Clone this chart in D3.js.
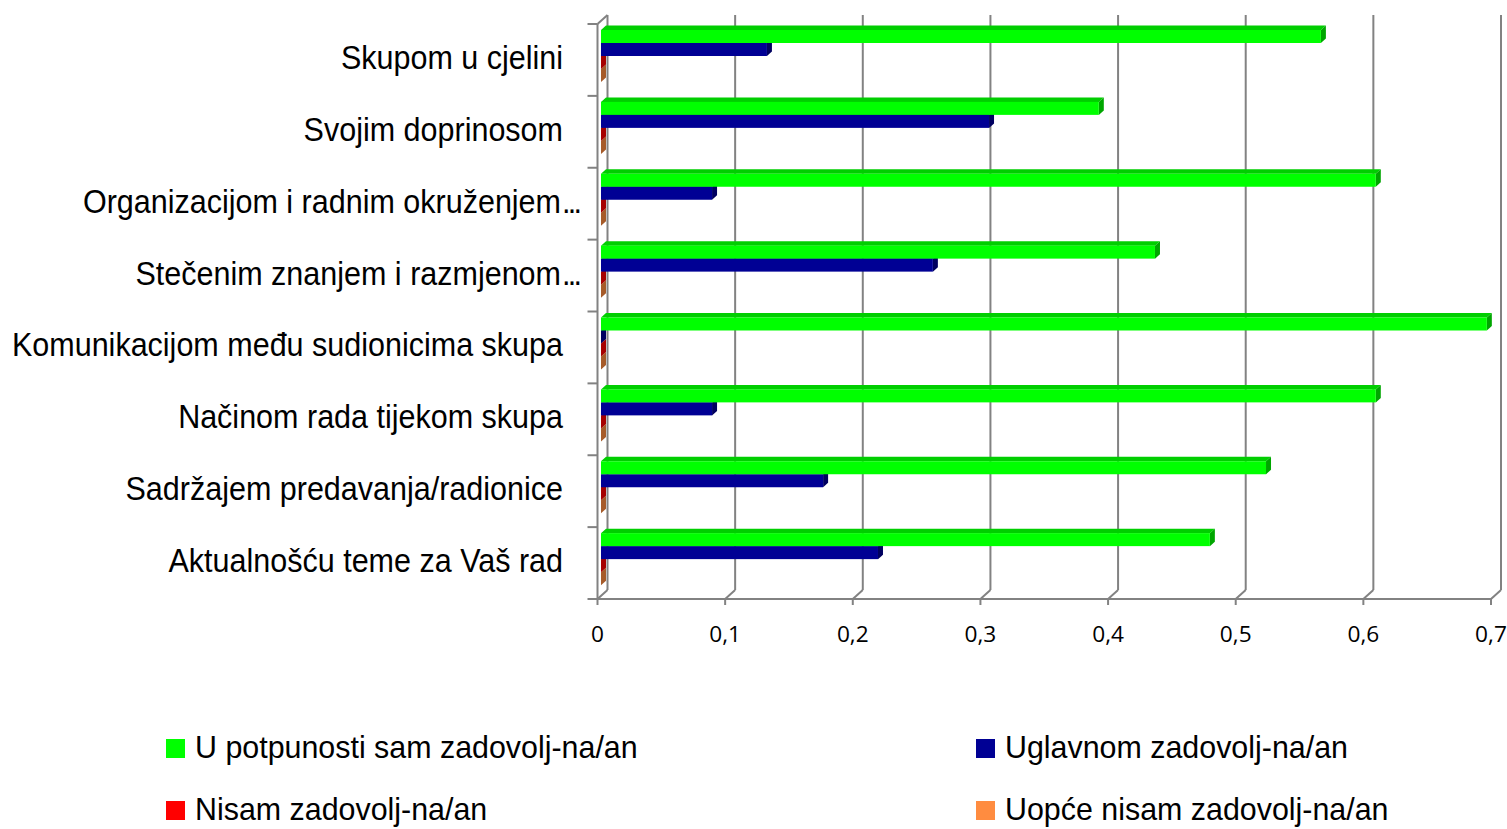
<!DOCTYPE html>
<html>
<head>
<meta charset="utf-8">
<script src="https://cdn.jsdelivr.net/npm/d3@7"></script>
<style>
    body { margin: 0; background: #fff; }
    svg { display: block; }
</style>
</head>
<body>
<svg width="1507" height="829"></svg>
<script>
// ------------------DATA------------------
var categories = ["Skupom u cjelini", "Svojim doprinosom", "Organizacijom i radnim okruženjem…",
    "Stečenim znanjem i razmjenom…", "Komunikacijom među sudionicima skupa",
    "Načinom rada tijekom skupa", "Sadržajem predavanja/radionice", "Aktualnošću teme za Vaš rad"];
var potpuno = [0.564, 0.390, 0.607, 0.434, 0.694, 0.607, 0.521, 0.477];
var uglavnom = [0.130, 0.304, 0.087, 0.260, 0, 0.087, 0.174, 0.217];
var nisam = [0, 0, 0, 0, 0, 0, 0, 0];
var uopce = [0, 0, 0, 0, 0, 0, 0, 0];
var seriesNames = ["U potpunosti sam zadovolj-na/an", "Uglavnom zadovolj-na/an",
    "Nisam zadovolj-na/an", "Uopće nisam zadovolj-na/an"];
var seriesValues = [potpuno, uglavnom, nisam, uopce];
var seriesColors = ["#00FF00", "#000094", "#FF0000", "#FF8C40"];
var xTicks = [0, 0.1, 0.2, 0.3, 0.4, 0.5, 0.6, 0.7];

// ------------------LAYOUT------------------
var svg = d3.select("svg");
var gridColor = "#828282";
var labelFont = "'Liberation Sans', Arial, sans-serif";
// offset of the back wall against the front plane
var wallDx = 10, wallDy = -9;
// bars sit a bit behind the front plane and have their own depth
var barShift = 3.5, barDx = 5, barDy = -4.5;

var x = d3.scaleLinear().domain([0, 0.7]).range([597.5, 1491]);
var y = d3.scaleBand().domain(categories).range([24, 599]);
var inner = d3.scaleBand().domain(seriesNames).range([6, 58]);

function linia(x1, y1, x2, y2) {
    svg.append("line")
        .attr("x1", x1).attr("y1", y1)
        .attr("x2", x2).attr("y2", y2)
        .style("stroke", gridColor)
        .style("stroke-width", 2);
}

// gridlines on the back wall, floor lines and ticks
function dibuixarGraella() {
    var bottom = y.range()[1];
    xTicks.forEach(function (t) {
        var fx = x(t);
        linia(fx + wallDx, 15, fx + wallDx, bottom + wallDy);
        linia(fx + wallDx, bottom + wallDy, fx, bottom);
        linia(fx, bottom, fx, bottom + 6);
        svg.append("text")
            .attr("transform", "translate(" + fx + ",642) scale(1.08,1)")
            .attr("text-anchor", "middle")
            .style("font-family", "'Open Sans', sans-serif")
            .style("font-size", "21px")
            .style("fill", "#000")
            .text(String(t).replace(".", ","));
    });
    // left wall and front axis
    var x0 = x(0);
    linia(x0, y.range()[0], x0, bottom);
    linia(x0, y.range()[0], x0 + wallDx, y.range()[0] + wallDy);
    linia(x0, bottom, x(0.7), bottom);
    var limits = categories.map(function (c) { return y(c); }).concat([bottom]);
    limits.forEach(function (ly) {
        linia(x0 - 10, ly, x0, ly);
    });
}

// one 3D bar: top face, right face and front face
function dibuixarBarra(cat, nom, valor, color) {
    var x0 = x(0) + barShift;
    var x1 = x(valor) + barShift;
    var y0 = y(cat) + inner(nom);
    var y1 = y0 + inner.bandwidth();
    var c = d3.color(color);
    var g = svg.append("g");
    g.append("polygon")
        .attr("points", [[x0, y0], [x0 + barDx, y0 + barDy], [x1 + barDx, y0 + barDy], [x1, y0]].join(" "))
        .style("fill", c.darker(0.6));
    g.append("polygon")
        .attr("points", [[x1, y0], [x1 + barDx, y0 + barDy], [x1 + barDx, y1 + barDy], [x1, y1]].join(" "))
        .style("fill", c.darker(1.2));
    g.append("rect")
        .attr("x", x0)
        .attr("y", y0)
        .attr("width", x1 - x0)
        .attr("height", y1 - y0)
        .style("fill", color);
}

function dibuixarBarres() {
    categories.forEach(function (cat, i) {
        // lower series first, so upper bars hide their top faces
        for (var s = seriesNames.length - 1; s >= 0; s--) {
            dibuixarBarra(cat, seriesNames[s], seriesValues[s][i], seriesColors[s]);
        }
    });
}

// category labels; a trailing ellipsis hangs past the right edge, as in Excel
function dibuixarEtiquetes() {
    categories.forEach(function (cat) {
        var cy = y(cat) + y.bandwidth() / 2 + 9;
        var tallat = cat.endsWith("…");
        var text = tallat ? cat.slice(0, -1) : cat;
        svg.append("text")
            .attr("transform", "translate(" + (tallat ? 561 : 563) + "," + cy + ") scale(0.925,1)")
            .attr("text-anchor", "end")
            .style("font-family", labelFont)
            .style("font-size", "33px")
            .style("fill", "#000")
            .text(text);
        if (tallat) {
            svg.append("text")
                .attr("transform", "translate(562," + cy + ") scale(0.925,1)")
                .style("font-family", labelFont)
                .style("font-size", "33px")
                .style("letter-spacing", "-3px")
                .style("fill", "#000")
                .text("...");
        }
    });
}

function dibuixarLlegenda() {
    var posX = [166, 976];
    var posY = [739, 801];
    seriesNames.forEach(function (nom, i) {
        var lx = posX[i % 2];
        var ly = posY[Math.floor(i / 2)];
        svg.append("rect")
            .attr("x", lx).attr("y", ly)
            .attr("width", 19).attr("height", 19)
            .style("fill", seriesColors[i]);
        svg.append("text")
            .attr("transform", "translate(" + (lx + 29) + "," + (ly + 19) + ") scale(0.95,1)")
            .style("font-family", labelFont)
            .style("font-size", "32px")
            .style("fill", "#000")
            .text(nom);
    });
}

// ------------------MAIN------------------
dibuixarGraella();
dibuixarBarres();
dibuixarEtiquetes();
dibuixarLlegenda();
</script>
</body>
</html>
